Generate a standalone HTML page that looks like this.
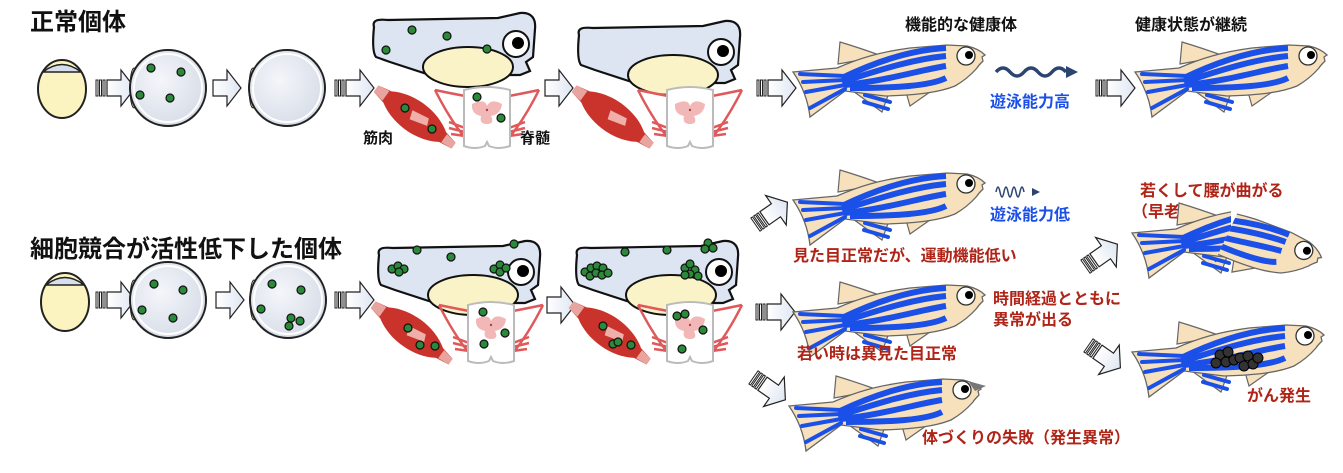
<!DOCTYPE html>
<html><head><meta charset="utf-8">
<style>
html,body{margin:0;padding:0;background:#fff;}
svg{display:block;}
text{font-family:"Liberation Sans","Noto Sans CJK JP",sans-serif;font-weight:bold;}
</style></head><body>
<svg width="1343" height="473" viewBox="0 0 1343 473" xmlns="http://www.w3.org/2000/svg">
<defs>
<linearGradient id="ag" x1="0" x2="1" y1="0" y2="0"><stop offset="0" stop-color="#fff"/><stop offset="1" stop-color="#dfe6f2"/></linearGradient>
<radialGradient id="cg" cx="0.4" cy="0.4" r="0.7"><stop offset="0" stop-color="#f4f6fa"/><stop offset="1" stop-color="#d4dae6"/></radialGradient>
<clipPath id="rearC"><rect x="-10" y="-10" width="112" height="120"/></clipPath>
<clipPath id="frontC"><rect x="100" y="-10" width="120" height="120"/></clipPath>
<g id="arr"><path d="M0,-8 L14,-8 L14,-18 L28,0 L14,18 L14,8 L0,8 Z" fill="url(#ag)" stroke="#222" stroke-width="1.2"/></g>
<g id="sarr"><rect x="-8" y="-8" width="2" height="16" fill="none" stroke="#222" stroke-width="1"/><rect x="-4.5" y="-8" width="2" height="16" fill="none" stroke="#222" stroke-width="1"/><rect x="-1" y="-8" width="2" height="16" fill="none" stroke="#222" stroke-width="1"/><use href="#arr" x="3"/></g>
<g id="egg"><ellipse cx="0" cy="0" rx="24" ry="29" fill="#fbf3c0" stroke="#222" stroke-width="2"/><path d="M-19,-17 Q0,-32 19,-17 Z" fill="#d8dfec" stroke="#222" stroke-width="1.5"/></g>
<g id="circ"><ellipse cx="-34" cy="0" rx="4" ry="20" fill="#f5e6b0" stroke="#222" stroke-width="1"/><circle r="38" fill="url(#cg)" stroke="#222" stroke-width="2"/><circle r="34" fill="none" stroke="#fff" stroke-width="2"/></g>
<g id="gd"><circle r="4" fill="#2a8a3a" stroke="#111" stroke-width="1.2"/></g>
<g id="emb">
<path d="M4,10 C2,3 8,2 18,3 L128,1 L150,-4 C162,-5 166,2 165,12 L163,40 L156,45 L160,54 L150,58 L60,58 L20,45 L6,40 C2,35 3,20 4,10 Z" fill="#dde4f2" stroke="#111" stroke-width="2.2"/>
<ellipse cx="98" cy="50" rx="45" ry="20" fill="#fbf3c8" stroke="#111" stroke-width="2"/>
<circle cx="146" cy="27" r="13" fill="#fff" stroke="#111" stroke-width="2"/><circle cx="148" cy="26" r="6" fill="#000"/>
</g>
<g id="mus">
<path d="M-48,-4 L-34,-7 C-15,-19 15,-19 34,-6 L48,-3 L48,4 L34,6 C15,19 -15,19 -34,7 L-48,4 Z" fill="#c9332b"/>
<path d="M-48,-4 L-36,-6 L-36,6 L-48,4 Z M48,-3 L36,-5 L36,5 L48,4 Z" fill="#e8a49e"/>
<path d="M-6,-4 L12,-7 L15,0 L-3,5 Z" fill="#f0b0aa"/>
</g>
<g id="spn">
<path d="M-52,-20 Q-38,-17 -22,-14 M52,-20 Q38,-17 22,-14 M-52,-20 Q-38,8 -22,28 M52,-20 Q38,8 22,28 M-22,18 L-38,12 M-22,22 L-38,18 M-22,26 L-36,24 M22,18 L38,12 M22,22 L38,18 M22,26 L36,24" fill="none" stroke="#e0595a" stroke-width="2.5"/>
<path d="M-23,-20 Q0,-26 23,-20 L23,36 Q12,40 2,36 L0,32 L-2,36 Q-12,40 -23,36 Z" fill="#fff" stroke="#bbb" stroke-width="2"/>
<path d="M-15,-6 Q-2,-12 0,-4 Q4,-12 15,-6 Q14,4 4,6 Q8,14 0,14 Q-8,14 -6,6 Q-16,4 -15,-6 Z" fill="#f2b7b7"/>
<circle r="1.2" fill="#a44"/>
</g>
<g id="fish">
<path d="M48,24 L50,2 Q70,8 92,16 Z" fill="#f7e1bd" stroke="#666" stroke-width="1.2"/>
<path d="M56,46 L92,72 L100,50 Z" fill="#f7e1bd" stroke="#666" stroke-width="1.2"/>
<path d="M116,52 L120,66 L140,52 Z" fill="#f7e1bd" stroke="#666" stroke-width="1.2"/>
<path d="M3,32 L47,28 C70,18 90,12 120,8 L157,5 L177,6 C186,8 192,12 195,15 L192,17 L193,21 C190,24 188,26 187,28 C180,36 172,42 165,46 C150,52 130,55 95,56 L55,51 L20,77 C18,60 12,45 3,32 Z" fill="#f7e1bd" stroke="#666" stroke-width="1.3"/>
<g fill="none" stroke="#1a4fe8" stroke-width="4" stroke-linecap="round">
<path d="M10,34 L55,36"/><path d="M13,42 L55,40"/><path d="M16,52 L55,45"/><path d="M20,68 L55,49"/>
<path d="M75,55 L100,62"/><path d="M74,62 L98,69"/>
</g>
<g fill="none" stroke="#1a4fe8" stroke-width="6" stroke-linecap="butt">
<path d="M52,38 C85,22 120,10 156,8"/><path d="M52,42 C95,28 125,19 156,16"/><path d="M55,45 C100,40 130,30 156,26"/><path d="M60,48 C105,48 140,46 156,38"/>
</g>
<circle cx="176" cy="16" r="9" fill="#fff" stroke="#333" stroke-width="1.3"/><circle cx="179" cy="15" r="4" fill="#000"/>
</g>
</defs>

<text x="30" y="30" font-size="24" fill="#111">正常個体</text>
<text x="30" y="257" font-size="24" fill="#111">細胞競合が活性低下した個体</text>

<!-- top row -->
<use href="#egg" x="62" y="89"/>
<use href="#sarr" x="104" y="88"/>
<use href="#circ" x="168" y="88"/>
<use href="#gd" x="151" y="68"/><use href="#gd" x="181" y="72"/><use href="#gd" x="140" y="95"/><use href="#gd" x="170" y="98"/>
<use href="#arr" x="213" y="88"/>
<use href="#circ" x="287" y="88"/>
<use href="#sarr" x="343" y="88"/>
<use href="#emb" x="370" y="17"/>
<use href="#gd" x="412" y="30"/><use href="#gd" x="447" y="36"/><use href="#gd" x="386" y="50"/><use href="#gd" x="487" y="49"/>
<use href="#mus" x="415" y="117" transform="rotate(36 415 117)"/>
<use href="#gd" x="405" y="108"/><use href="#gd" x="432" y="129"/>
<use href="#spn" x="487" y="110"/>
<use href="#gd" x="477" y="97"/><use href="#gd" x="501" y="118"/>
<text x="363" y="143" font-size="15" fill="#111">筋肉</text>
<text x="520" y="143" font-size="15" fill="#111">脊髄</text>
<use href="#arr" x="545" y="88"/>
<use href="#emb" x="575" y="25"/>
<use href="#mus" x="613" y="117" transform="rotate(36 613 117)"/>
<use href="#spn" x="690" y="110"/>
<use href="#sarr" x="765" y="88"/>
<use href="#fish" x="790" y="40"/>
<text x="905" y="30" font-size="16" fill="#111">機能的な健康体</text>
<path d="M996,72 q7,-8 14,0 t14,0 t14,0 t14,0 t14,0" fill="none" stroke="#2b4570" stroke-width="3.5"/>
<path d="M1066,66 L1078,72 L1066,78 Z" fill="#2b4570"/>
<text x="990" y="107" font-size="16" fill="#1a4fe8">遊泳能力高</text>
<use href="#sarr" x="1104" y="88"/>
<use href="#fish" x="1132" y="40"/>
<text x="1135" y="30" font-size="16" fill="#111">健康状態が継続</text>

<!-- bottom row -->
<use href="#egg" x="65" y="302"/>
<use href="#sarr" x="104" y="300"/>
<use href="#circ" x="168" y="300"/>
<use href="#gd" x="154" y="284"/><use href="#gd" x="183" y="290"/><use href="#gd" x="142" y="310"/><use href="#gd" x="173" y="318"/>
<use href="#arr" x="216" y="300"/>
<use href="#circ" x="288" y="300"/>
<use href="#gd" x="272" y="284"/><use href="#gd" x="301" y="290"/><use href="#gd" x="261" y="309"/><use href="#gd" x="291" y="318"/><use href="#gd" x="300" y="321"/><use href="#gd" x="289" y="326"/>
<use href="#sarr" x="343" y="300"/>
<use href="#emb" x="375" y="245"/>
<use href="#gd" x="417" y="250"/><use href="#gd" x="451" y="257"/><use href="#gd" x="514" y="244"/>
<use href="#gd" x="392" y="269"/><use href="#gd" x="398" y="266"/><use href="#gd" x="404" y="269"/><use href="#gd" x="399" y="272"/>
<use href="#gd" x="494" y="269"/><use href="#gd" x="500" y="265"/><use href="#gd" x="500" y="272"/><use href="#gd" x="506" y="268"/>
<use href="#mus" x="412" y="333" transform="rotate(36 412 333)"/>
<use href="#gd" x="408" y="328"/><use href="#gd" x="420" y="345"/><use href="#gd" x="435" y="346"/>
<use href="#spn" x="491" y="325"/>
<use href="#gd" x="483" y="312"/><use href="#gd" x="505" y="333"/><use href="#gd" x="484" y="344"/>
<use href="#arr" x="547" y="305"/>
<use href="#emb" x="573" y="245"/>
<use href="#gd" x="625" y="252"/><use href="#gd" x="667" y="250"/>
<use href="#gd" x="585" y="272"/><use href="#gd" x="591" y="268"/><use href="#gd" x="597" y="266"/><use href="#gd" x="603" y="268"/><use href="#gd" x="590" y="276"/><use href="#gd" x="596" y="273"/><use href="#gd" x="602" y="275"/><use href="#gd" x="608" y="273"/>
<use href="#gd" x="685" y="268"/><use href="#gd" x="690" y="264"/><use href="#gd" x="695" y="270"/><use href="#gd" x="690" y="274"/><use href="#gd" x="698" y="276"/><use href="#gd" x="685" y="275"/>
<use href="#gd" x="708" y="243"/><use href="#gd" x="713" y="248"/><use href="#gd" x="705" y="249"/>
<use href="#mus" x="610" y="333" transform="rotate(36 610 333)"/>
<use href="#gd" x="603" y="326"/><use href="#gd" x="613" y="344"/><use href="#gd" x="618" y="342"/><use href="#gd" x="631" y="345"/>
<use href="#spn" x="690" y="325"/>
<use href="#gd" x="677" y="316"/><use href="#gd" x="685" y="314"/><use href="#gd" x="703" y="330"/><use href="#gd" x="682" y="349"/>

<use href="#sarr" x="762" y="220" transform="rotate(-35 762 220)"/>
<use href="#sarr" x="764" y="312"/>
<use href="#sarr" x="760" y="382" transform="rotate(35 760 382)"/>

<use href="#fish" x="790" y="168"/>
<path d="M996,192 q2,-10 4,0 t4,0 t4,0 t4,0 t4,0 t4,0 t4,0" fill="none" stroke="#2b4570" stroke-width="1.5"/>
<path d="M1032,188 L1040,192 L1032,196 Z" fill="#2b4570"/>
<text x="990" y="220" font-size="16" fill="#1a4fe8">遊泳能力低</text>
<text x="793" y="261" font-size="16" fill="#b02418">見た目正常だが、運動機能低い</text>

<use href="#fish" x="790" y="280"/>
<text x="797" y="359" font-size="16" fill="#b02418">若い時は異見た目正常</text>
<text x="993" y="304" font-size="16" fill="#b02418">時間経過とともに</text>
<text x="993" y="325" font-size="16" fill="#b02418">異常が出る</text>

<use href="#fish" x="786" y="374"/>
<path d="M968,381 L986,386 L975,391 Z" fill="#777"/>
<text x="922" y="443" font-size="16" fill="#b02418">体づくりの失敗（発生異常）</text>

<use href="#sarr" x="1092" y="262" transform="rotate(-35 1092 262)"/>
<use href="#sarr" x="1095" y="350" transform="rotate(35 1095 350)"/>

<text x="1140" y="196" font-size="16" fill="#b02418">若くして腰が曲がる</text>
<text x="1132" y="217" font-size="16" fill="#b02418">（早老）</text>
<g transform="translate(1129,201)">
<g clip-path="url(#rearC)"><use href="#fish"/></g>
<g transform="rotate(25 100 30)"><g clip-path="url(#frontC)"><use href="#fish"/></g></g>
</g>

<use href="#fish" x="1129" y="320"/>
<g fill="#333" stroke="#000" stroke-width="1">
<circle cx="1220" cy="355" r="5"/><circle cx="1228" cy="352" r="5"/><circle cx="1216" cy="363" r="5"/><circle cx="1226" cy="362" r="5"/><circle cx="1234" cy="360" r="5"/>
<circle cx="1240" cy="358" r="5"/><circle cx="1248" cy="356" r="5"/><circle cx="1244" cy="366" r="5"/><circle cx="1253" cy="364" r="5"/><circle cx="1258" cy="358" r="5"/>
</g>
<text x="1247" y="401" font-size="16" fill="#b02418">がん発生</text>
</svg>
</body></html>
